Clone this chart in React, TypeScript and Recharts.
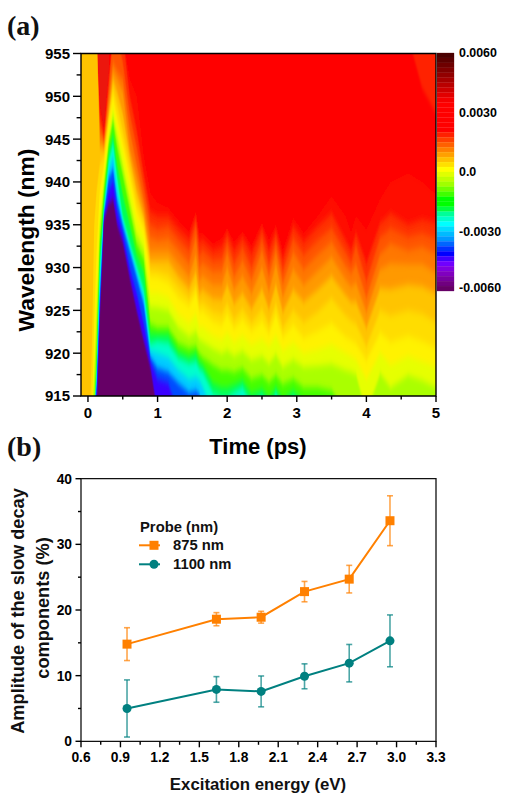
import { ComposedChart, Area, Line, ErrorBar, XAxis, YAxis, Legend, ReferenceArea } from 'recharts'

const FONT = '"Liberation Sans", Arial, sans-serif'

// (a) contour map: for each delay, the wavelength where the signal crosses each colour level
const delays = [
  -0.1, 0.03, 0.06, 0.09, 0.125, 0.17, 0.23, 0.3, 0.36, 0.42, 0.5, 0.6, 0.7, 0.8, 0.9,
  1.0, 1.15, 1.3, 1.45, 1.55, 1.6, 1.65, 1.8, 1.92, 2.0, 2.1, 2.22, 2.35, 2.5, 2.6,
  2.7, 2.8, 2.95, 3.1, 3.3, 3.5, 3.7, 3.78, 3.85, 4.0, 4.2, 4.35, 4.6, 4.8, 5.0,
]

// top of the pure red region, orange-red sits above it at the far right
const redTop = [
  957, 957, 957, 957, 957, 957, 957, 957, 957, 957, 957, 957, 957, 957, 957,
  957, 957, 957, 957, 957, 957, 957, 957, 957, 957, 957, 957, 957, 957, 957,
  957, 957, 957, 957, 957, 957, 957, 957, 957, 957, 957, 957, 957, 951, 948,
]

// slightly darker red just after time zero
const darkRedTop = [
  913, 913, 913, 913, 957, 957, 957, 957, 913, 913, 913, 913, 913, 913, 913,
  913, 913, 913, 913, 913, 913, 913, 913, 913, 913, 913, 913, 913, 913, 913,
  913, 913, 913, 913, 913, 913, 913, 913, 913, 913, 913, 913, 913, 913, 913,
]

const levelColors = [
  '#FF1100', '#FF3300', '#FF5500', '#FF7700', '#FF9900', '#FFC400', '#FFDD00', '#FFF200', '#E6FF00',
  '#AAFF00', '#44FF00', '#00FF55', '#00FFCC', '#00CCFF', '#004CFF', '#3B00FF', '#660066',
]

// one row per delay, one value per level, missing trailing values sit below the 915 floor
const crossings = [
  [957, 957, 957, 957, 957, 957],
  [957, 957, 957, 957, 957, 957],
  [957, 957, 957, 957, 957, 957, 922],
  [957, 957, 957, 957, 957, 957, 935, 924, 919, 917],
  [957, 957, 957, 957, 957, 957, 939, 932, 927, 924.5, 921, 919, 918, 917, 916, 915.5],
  [949, 948, 947, 946, 945, 944, 942, 939, 937, 935, 933, 931.5, 930, 928, 926.5, 925, 923.8],
  [946, 945.6, 945, 944.6, 944.2, 943.7, 943, 942, 941, 940, 939, 938, 937, 936.6, 936.2, 935.9, 935.5],
  [953, 952, 951, 950, 949, 948, 947.5, 947, 946, 945, 944.5, 943.5, 942.5, 941.5, 940.5, 939, 937.5],
  [957, 957, 957, 954, 953, 952, 951, 950, 948.7, 947.8, 947, 945.5, 944.5, 943, 941.5, 940, 938],
  [957, 957, 957, 953, 952, 950.5, 949, 947.5, 946.5, 945.3, 944, 942, 940.5, 939, 937.8, 936.5, 935],
  [957, 957, 954, 952, 950.5, 948, 946, 944.6, 943.5, 942, 940.8, 938.5, 936, 935.4, 934.9, 934, 933],
  [952, 950, 948, 946, 944, 943, 941.8, 940.7, 939.5, 938, 936.8, 935, 933, 932.4, 931.9, 930, 928.8],
  [950, 946, 944, 942, 940.5, 939, 937.8, 936.7, 935.5, 934, 932.8, 931.5, 930.2, 929.5, 928.9, 927, 925],
  [943, 941, 939.5, 938, 937, 936, 935.3, 934.5, 933.5, 932.2, 931, 929.5, 927.5, 926.7, 925.8, 923.5, 921.5],
  [938.6, 936.5, 935, 933.5, 932, 930.8, 929.8, 928.9, 927, 925.4, 923.4, 922.3, 921.1, 920.3, 919.5, 919, 918.2],
  [937.5, 936, 934.5, 933.2, 932, 930.8, 929.7, 928.8, 927, 925.3, 923, 922.2, 921.4, 920, 918.3, 917],
  [937, 936, 934.8, 933.4, 932, 930.8, 929.3, 928.2, 926.5, 925, 923, 922.2, 921.2, 919.5, 917.8, 916.5],
  [935.5, 934.5, 933.3, 932, 930.5, 929, 927.8, 926.5, 924.5, 923, 921.2, 920.2, 919.4, 918, 916.5],
  [934.2, 933.3, 932, 930.5, 929, 927.6, 926.5, 925.5, 923.5, 922, 920.6, 919.6, 918.8, 917, 915.4],
  [936.5, 936, 935, 933.5, 931.5, 929.5, 928, 927, 924.5, 922.5, 920.8, 920, 919, 917.2, 915.6],
  [934, 933, 931.5, 930, 928.5, 927, 925.8, 924.8, 923, 921.6, 920, 919, 918.2, 916.8, 915.2],
  [934, 933.2, 932, 930.5, 929, 927.4, 926, 924.9, 923, 921.3, 919.5, 918.6, 917.8, 916],
  [932.8, 932, 930.8, 929.5, 928, 926.4, 924.9, 923.7, 922, 920.5, 918.6, 916.5, 915.3],
  [933.4, 932.4, 931, 929.6, 928, 926.3, 924.6, 923.3, 921.6, 920, 918, 916, 914.8],
  [934.6, 934, 933, 931.8, 930, 928, 925.8, 924.5, 922.3, 920.3, 918, 916, 914.8],
  [933, 932, 930.5, 929, 927.5, 925.8, 924, 922.9, 921.3, 919.7, 917.8, 916.3, 915.4],
  [934.2, 933.5, 932.3, 930.8, 929, 927, 925.2, 923.9, 922, 920.2, 918.2, 916.8, 916, 914.6],
  [932.6, 931.6, 930, 928.6, 927, 925.2, 923.6, 922.6, 921, 919.2, 917, 915.3, 914],
  [935.2, 934.6, 933.4, 932, 930, 927.5, 925.2, 923.7, 921.6, 919.6, 917.4, 915.8, 915],
  [933.2, 932, 930.4, 929, 927.2, 925.2, 923.4, 922.3, 920.8, 918.8, 916.6, 914.8],
  [935, 934.3, 933.2, 932, 930.4, 928, 925.8, 924.5, 922, 919.8, 917.4, 916, 915.4],
  [932, 931, 929.6, 928.2, 926.6, 924.8, 923, 921.9, 920.3, 918.4, 916.4, 914.6],
  [935.8, 934.8, 933.4, 931.8, 929.8, 927.4, 925, 923.3, 921.2, 919.2, 917, 915.6, 914.8],
  [934, 933, 931.5, 929.8, 928, 926, 923.6, 921.8, 920, 918.4, 916, 914.4],
  [936, 934.8, 933.2, 931.5, 929.6, 927.4, 924.8, 922.6, 920.4, 918.5, 916],
  [938.3, 936.3, 934.6, 933, 931.2, 929, 926.4, 923.5, 921, 918.7, 915.6],
  [936, 933.2, 931.8, 930.2, 928.6, 926.8, 924.4, 921.9, 920, 918],
  [934, 932, 930.6, 929.4, 927.8, 926, 923.8, 921.5, 919.6, 917.8],
  [936, 934, 932.6, 930.4, 928.2, 926, 923.4, 921.1, 919.2, 917.5],
  [934.4, 930.5, 928.4, 926.5, 924.8, 923, 920.8, 919.2, 917],
  [938, 935.2, 933.6, 931.6, 929.8, 927.6, 925, 922.4, 920, 917.6],
  [940, 936.3, 934.6, 932.8, 930.5, 927.5, 924.4, 921.3, 918.6, 916],
  [941, 935, 933.6, 932, 930.4, 928, 925, 922, 919.6, 917.4],
  [940, 935.6, 934, 932.4, 930.4, 927.8, 924.6, 921.4, 919, 916.8],
  [938.5, 935.2, 933.4, 931.6, 929.4, 927, 923.6, 920.6, 918.4, 916],
]

const delayTicks = [0, 0.5, 1, 1.5, 2, 2.5, 3, 3.5, 4, 4.5, 5]
const wavelengthTicks = [915, 917.5, 920, 922.5, 925, 927.5, 930, 932.5, 935, 937.5, 940, 942.5, 945, 947.5, 950, 952.5, 955]

// colour scale, top step first
const scaleEdges = [
  0.006, 0.00575, 0.0055, 0.00525, 0.005, 0.00475, 0.0045, 0.00425, 0.004, 0.00375, 0.0035, 0.00325,
  0.003, 0.00275, 0.0025, 0.00225, 0.002, 0.00175, 0.0015, 0.00125, 0.001, 0.00075, 0.0005, 0.00025,
  0, -0.00025, -0.0005, -0.00075, -0.001, -0.00125, -0.0015, -0.00175, -0.002, -0.00225, -0.0025, -0.00275,
  -0.003, -0.00325, -0.0035, -0.00375, -0.004, -0.00425, -0.0045, -0.00475, -0.005, -0.00525, -0.0055, -0.00575,
  -0.006,
]
const scaleColors = [
  '#4A0000', '#5C0000', '#6E0000', '#800000', '#920000', '#A60000', '#BA0000', '#CE0000', '#E20000', '#F50000',
  '#FF0000', '#FF0000', '#FF0000', '#FF0000', '#FF0000', '#FF0000', '#FF2000', '#FF4000', '#FF6000', '#FF8000',
  '#FFA000', '#FFC000', '#FFE000', '#FFFF00', '#E0FF00', '#C0FF00', '#A0FF00', '#70FF00', '#40FF00', '#00FF00',
  '#00FF00', '#00FF40', '#00FF99', '#00FFCC', '#00FFFF', '#00DDFF', '#00BBFF', '#0099FF', '#0066FF', '#0033FF',
  '#0000FF', '#4000FF', '#7000FF', '#8000E0', '#8000C0', '#7800A0', '#700080', '#660066',
]
const scaleTicks = [-0.006, -0.003, 0, 0.003, 0.006]
const scaleLabels = ['-0.0060', '-0.0030', '0.0', '0.0030', '0.0060']

// (b) slow decay amplitudes
const energies = [0.95, 1.63, 1.97, 2.3, 2.64, 2.95]
const probe875 = [14.8, 18.6, 18.9, 22.8, 24.7, 33.6]
const probe875Err = [2.5, 1.0, 0.9, 1.55, 2.1, 3.8]
const probe1100 = [5.0, 7.9, 7.6, 9.9, 11.9, 15.3]
const probe1100Err = [4.35, 1.95, 2.35, 1.9, 2.85, 3.95]

const energyTicks = [0.6, 0.75, 0.9, 1.05, 1.2, 1.35, 1.5, 1.65, 1.8, 1.95, 2.1, 2.25, 2.4, 2.55, 2.7, 2.85, 3.0, 3.15, 3.3]
const amplitudeTicks = [0, 5, 10, 15, 20, 25, 30, 35, 40]

const ORANGE = '#FF8000'
const TEAL = '#008080'

const contourData = delays.map((delay, i) => {
  const row: Record<string, number> = { delay, redTop: redTop[i], darkRedTop: darkRedTop[i] }
  levelColors.forEach((_, k) => {
    row[`level${k}`] = crossings[i][k] ?? 913
  })
  return row
})

const decayData = energies.map((energy, i) => ({
  energy,
  probe875: probe875[i],
  probe875Err: probe875Err[i],
  probe1100: probe1100[i],
  probe1100Err: probe1100Err[i],
}))

function isMajor(value: number, step: number, origin = 0) {
  const n = (value - origin) / step
  return Math.abs(n - Math.round(n)) < 1e-6
}

function BottomTick({ x, y, payload, step, origin, size, fmt, dy }: any) {
  const major = isMajor(payload.value, step, origin)
  return (
    <g>
      <line x1={x} x2={x} y1={y} y2={y + (major ? 6 : 3.5)} stroke="#000" strokeWidth={1.4} />
      {major && (
        <text x={x} y={y + dy} textAnchor="middle" fontFamily={FONT} fontWeight="bold" fontSize={size} fill="#000">
          {fmt(payload.value)}
        </text>
      )}
    </g>
  )
}

function LeftTick({ x, y, payload, step, size, gap, len }: any) {
  const major = isMajor(payload.value, step)
  return (
    <g>
      <line x1={x - (major ? len : len * 0.55)} x2={x} y1={y} y2={y} stroke="#000" strokeWidth={1.4} />
      {major && (
        <text x={x - gap} y={y} dy="0.36em" textAnchor="end" fontFamily={FONT} fontWeight="bold" fontSize={size} fill="#000">
          {payload.value}
        </text>
      )}
    </g>
  )
}

function ScaleTick({ x, y, payload }: any) {
  const label = scaleLabels[scaleTicks.indexOf(payload.value)]
  return (
    <text x={x + 5} y={payload.value === -0.006 ? y - 3 : y} dy="0.36em" fontFamily={FONT} fontWeight="bold" fontSize={12.4} fill="#000">
      {label}
    </text>
  )
}

function TopTick({ x, y }: any) {
  return <line x1={x} x2={x} y1={y} y2={y + 2.5} stroke="#333" strokeWidth={1} />
}

function RightTick({ x, y }: any) {
  return <line x1={x} x2={x - 2.5} y1={y} y2={y} stroke="#555" strokeWidth={1} />
}

function SquareDot({ cx, cy, index }: any) {
  return <rect key={index} x={cx - 4.5} y={cy - 4.5} width={9} height={9} fill={ORANGE} />
}

function ProbeLegend({ payload }: any) {
  const items = [...(payload ?? [])].sort((a: any, b: any) => a.value.length - b.value.length)
  return (
    <div style={{ fontFamily: FONT, fontWeight: 'bold', fontSize: 14.8, lineHeight: '18.6px', color: '#111' }}>
      <div style={{ marginLeft: 1 }}>Probe (nm)</div>
      {items.map((item: any) => (
        <div key={item.value} style={{ display: 'flex', alignItems: 'center' }}>
          <svg width={34} height={18.6}>
            <line x1={0} x2={21} y1={9.3} y2={9.3} stroke={item.color} strokeWidth={2} />
            {item.value === '875 nm'
              ? <rect x={10.5} y={4.8} width={9} height={9} fill={item.color} />
              : <circle cx={15} cy={9.3} r={4.5} fill={item.color} />}
          </svg>
          <span>{item.value}</span>
        </div>
      ))}
    </div>
  )
}

function ContourPanel() {
  return (
    <ComposedChart
      width={505}
      height={470}
      data={contourData}
      margin={{ top: 53.5, right: 69, left: 0, bottom: 40 }}
      style={{ position: 'absolute', left: 0, top: 0 }}
    >
      <defs>
        <filter id="soften" filterUnits="userSpaceOnUse" x={0} y={0} width={505} height={470}>
          <feGaussianBlur stdDeviation="0.6 3.5" />
        </filter>
      </defs>
      <XAxis
        dataKey="delay"
        type="number"
        domain={[-0.1, 5]}
        allowDataOverflow
        ticks={delayTicks}
        interval={0}
        height={34}
        tickSize={0}
        tickMargin={0}
        tickLine={false}
        axisLine={false}
        tick={<BottomTick step={1} origin={0} size={15} dy={22} fmt={(v: number) => v} />}
      />
      <YAxis
        type="number"
        domain={[915, 955]}
        allowDataOverflow
        ticks={wavelengthTicks}
        interval={0}
        width={81}
        tickSize={0}
        tickMargin={0}
        tickLine={false}
        axisLine={false}
        tick={<LeftTick step={5} size={15} gap={11} len={8} />}
      />
      <ReferenceArea x1={-0.1} x2={5} y1={915} y2={955} fill="#FF2200" fillOpacity={1} stroke="none" />
      <Area type="linear" dataKey="redTop" baseValue={905} fill="#FF0000" fillOpacity={1} stroke="none" filter="url(#soften)" isAnimationActive={false} dot={false} activeDot={false} />
      <Area type="linear" dataKey="darkRedTop" baseValue={905} fill="#EC1208" fillOpacity={1} stroke="none" filter="url(#soften)" isAnimationActive={false} dot={false} activeDot={false} />
      {levelColors.map((color, k) => (
        <Area
          key={color}
          type="linear"
          dataKey={`level${k}`}
          baseValue={905}
          fill={color}
          fillOpacity={1}
          stroke="none"
          filter="url(#soften)"
          isAnimationActive={false}
          dot={false}
          activeDot={false}
        />
      ))}
      <ReferenceArea x1={-0.1} x2={5} y1={915} y2={955} fill="none" stroke="#000" strokeWidth={1.4} />
      <text transform="translate(34,240) rotate(-90)" textAnchor="middle" fontFamily={FONT} fontWeight="bold" fontSize={22.8} fill="#000">
        Wavelength (nm)
      </text>
      <text x={258} y={454} textAnchor="middle" fontFamily={FONT} fontWeight="bold" fontSize={22} fill="#000">
        Time (ps)
      </text>
    </ComposedChart>
  )
}

function ColorScale() {
  return (
    <ComposedChart
      width={68}
      height={258}
      data={[{ x: 0, y: 0 }, { x: 1, y: 0 }]}
      margin={{ top: 10, right: 0, left: 0, bottom: 10 }}
      style={{ position: 'absolute', left: 437, top: 43 }}
    >
      <XAxis dataKey="x" type="number" domain={[0, 1]} hide />
      <YAxis
        orientation="right"
        type="number"
        domain={[-0.006, 0.006]}
        ticks={scaleTicks}
        interval={0}
        width={51}
        tickSize={0}
        tickMargin={0}
        tickLine={false}
        axisLine={false}
        tick={<ScaleTick />}
      />
      <Line dataKey="y" stroke="none" dot={false} activeDot={false} isAnimationActive={false} />
      {scaleColors.map((color, i) => (
        <ReferenceArea key={i} y1={scaleEdges[i + 1]} y2={scaleEdges[i]} fill={color} fillOpacity={1} stroke={color} strokeWidth={0.3} />
      ))}
    </ComposedChart>
  )
}

function DecayPanel() {
  return (
    <ComposedChart
      width={505}
      height={363}
      data={decayData}
      margin={{ top: 48.7, right: 69, left: 0, bottom: 0 }}
      style={{ position: 'absolute', left: 0, top: 430 }}
    >
      <XAxis
        dataKey="energy"
        type="number"
        domain={[0.6, 3.3]}
        ticks={energyTicks}
        interval={0}
        height={51.7}
        tickSize={0}
        tickMargin={0}
        tickLine={false}
        axisLine={false}
        tick={<BottomTick step={0.3} origin={0.6} size={13.8} dy={20.5} fmt={(v: number) => v.toFixed(1)} />}
      />
      <XAxis
        xAxisId="top"
        orientation="top"
        type="number"
        domain={[0.6, 3.3]}
        ticks={energyTicks.filter(v => isMajor(v, 0.3, 0.6))}
        interval={0}
        height={0}
        tickSize={0}
        tickMargin={0}
        tickLine={false}
        axisLine={false}
        tick={<TopTick />}
      />
      <YAxis
        type="number"
        domain={[0, 40]}
        ticks={amplitudeTicks}
        interval={0}
        width={81}
        tickSize={0}
        tickMargin={0}
        tickLine={false}
        axisLine={false}
        tick={<LeftTick step={10} size={13.8} gap={9} len={5.5} />}
      />
      <YAxis
        yAxisId="right"
        orientation="right"
        type="number"
        domain={[0, 40]}
        ticks={amplitudeTicks.filter(v => isMajor(v, 10))}
        interval={0}
        width={0}
        tickSize={0}
        tickMargin={0}
        tickLine={false}
        axisLine={false}
        tick={<RightTick />}
      />
      <Legend
        layout="vertical"
        align="center"
        verticalAlign="middle"
        wrapperStyle={{ left: 139, top: 87.5, width: 120, height: 58 }}
        content={<ProbeLegend />}
      />
      <ReferenceArea x1={0.6} x2={3.3} y1={0} y2={40} fill="none" stroke="#111" strokeWidth={1.3} />
      <Line
        type="linear"
        dataKey="probe875"
        name="875 nm"
        stroke={ORANGE}
        strokeWidth={2}
        dot={<SquareDot />}
        activeDot={false}
        isAnimationActive={false}
      >
        <ErrorBar dataKey="probe875Err" direction="y" width={3} stroke={ORANGE} strokeWidth={1.6} strokeOpacity={0.7} isAnimationActive={false} />
      </Line>
      <Line
        type="linear"
        dataKey="probe1100"
        name="1100 nm"
        stroke={TEAL}
        strokeWidth={2}
        dot={{ r: 4.5, fill: TEAL, stroke: TEAL, strokeWidth: 0 }}
        activeDot={false}
        isAnimationActive={false}
      >
        <ErrorBar dataKey="probe1100Err" direction="y" width={3} stroke={TEAL} strokeWidth={1.6} strokeOpacity={0.7} isAnimationActive={false} />
      </Line>
      <g fontFamily={FONT} fontWeight="bold" fill="#111">
        <text transform="translate(24,181) rotate(-90)" textAnchor="middle" fontSize={18.2}>
          Amplitude of the slow decay
        </text>
        <text transform="translate(49,178) rotate(-90)" textAnchor="middle" fontSize={18.2}>
          components (%)
        </text>
        <text x={258} y={360} textAnchor="middle" fontSize={16.8}>
          Excitation energy (eV)
        </text>
      </g>
    </ComposedChart>
  )
}

export default function App() {
  return (
    <div style={{ position: 'absolute', left: 0, top: 0, width: 505, height: 793, overflow: 'hidden', background: '#fff' }}>
      <div style={{ position: 'absolute', left: 7, top: 10, font: 'bold 28px "Liberation Serif", serif', color: '#111' }}>(a)</div>
      <div style={{ position: 'absolute', left: 7, top: 431, font: 'bold 28px "Liberation Serif", serif', color: '#111' }}>(b)</div>
      <ContourPanel />
      <ColorScale />
      <DecayPanel />
    </div>
  )
}
